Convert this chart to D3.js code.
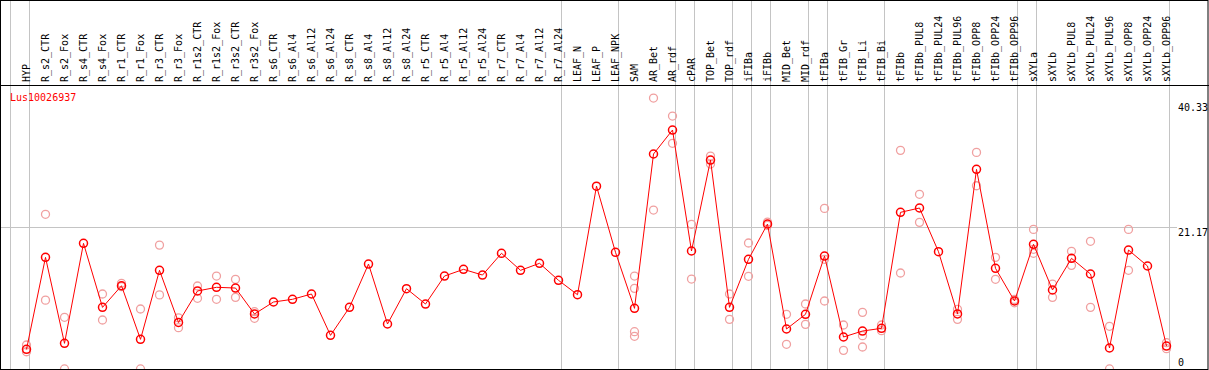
<!DOCTYPE html>
<html>
<head>
<meta charset="utf-8">
<script src="https://cdn.jsdelivr.net/npm/d3@7"></script>
<style>
	html, body { margin: 0; padding: 0; background: #fff; }
	svg { display: block; }
</style>
</head>
<body>
<svg id="chart" width="1209" height="370"></svg>
<script>
// Data
const geneName = "Lus10026937";
const categories = [
	"HYP", "R_s2_CTR", "R_s2_Fox", "R_s4_CTR", "R_s4_Fox", "R_r1_CTR", "R_r1_Fox",
	"R_r3_CTR", "R_r3_Fox", "R_r1s2_CTR", "R_r1s2_Fox", "R_r3s2_CTR", "R_r3s2_Fox",
	"R_s6_CTR", "R_s6_Al4", "R_s6_Al12", "R_s6_Al24", "R_s8_CTR", "R_s8_Al4",
	"R_s8_Al12", "R_s8_Al24", "R_r5_CTR", "R_r5_Al4", "R_r5_Al12", "R_r5_Al24",
	"R_r7_CTR", "R_r7_Al4", "R_r7_Al12", "R_r7_Al24", "LEAF_N", "LEAF_P", "LEAF_NPK",
	"SAM", "AR_Bet", "AR_rdf", "cPAR", "TOP_Bet", "TOP_rdf", "iFIBa", "iFIBb",
	"MID_Bet", "MID_rdf", "tFIBa", "tFIB_Gr", "tFIB_Li", "tFIB_Bi", "tFIBb",
	"tFIBb_PUL8", "tFIBb_PUL24", "tFIBb_PUL96", "tFIBb_OPP8", "tFIBb_OPP24", "tFIBb_OPP96",
	"sXYLa", "sXYLb", "sXYLb_PUL8", "sXYLb_PUL24", "sXYLb_PUL96", "sXYLb_OPP8",
	"sXYLb_OPP24", "sXYLb_OPP96"
];
const means = [
	2.7, 16.73, 3.61, 18.87, 9.1, 12.4, 4.22, 14.75, 6.8, 11.6, 12.16, 12.05, 8.09,
	9.92, 10.33, 11.14, 4.83, 9.1, 15.71, 6.56, 11.95, 9.61, 13.88, 14.9, 14.03,
	17.35, 14.75, 15.82, 13.23, 11.03, 27.6, 17.5,
	8.95, 32.5, 36.16, 17.7, 31.58, 9.1, 16.43, 21.82, 5.8, 8.04, 16.93, 4.58, 5.49, 5.9,
	23.6, 24.26, 17.59, 8.09, 30.16, 15.06, 10.07,
	18.72, 11.75, 16.58, 14.19, 2.9, 17.85, 15.41, 3.2
];
const replicates = [
	[3.36, 2.33], [23.3, 10.2], [7.58, -0.3], [], [11.14, 7.17], [12.77, 12.25],
	[8.85, -0.3], [18.6, 11.0], [7.5, 6.0], [12.36, 10.48], [13.88, 10.33],
	[13.38, 10.63], [8.44, 7.43],
	[], [], [], [], [], [], [], [], [], [], [], [], [], [], [], [], [], [], [],
	[13.88, 12.0, 5.39, 4.68], [41.04, 23.95], [38.29, 34.13], [21.77, 13.42],
	[32.19, 30.97], [11.14, 7.27], [18.92, 13.84], [22.12, 21.6], [8.04, 3.46],
	[9.61, 6.51], [24.2, 16.43, 10.07], [6.41, 2.54], [8.34, 4.78, 3.05], [6.41, 5.54],
	[33.06, 14.34], [26.35, 22.07], [], [8.8, 7.27], [32.75, 27.66], [16.73, 13.38],
	[10.3, 9.8],
	[21.0, 17.96, 17.35], [12.66, 10.63], [17.65, 15.51], [19.18, 9.1], [6.21, -0.3],
	[21.0, 14.75], [], [3.71, 2.79]
];
const yTicks = [0, 21.17, 40.33];
const gridTicks = [21.17];
// column index where a tissue group starts (gray separators)
const groupBreaks = [0, 1, 29, 32, 35, 36, 38, 39, 40, 42, 43, 46, 53, 54, 61];

// Values
const width = 1209,
	height = 370,
	headerBottom = 85,
	colW = 19,
	colLeft = 10.5;
const font = "'DejaVu Sans Mono', 'Liberation Mono', monospace";
const lineColor = "#ff0000";
const repColor = "#f0a0a0";
const gridColor = "#c4c4c4";

// D3 scales
const x = d3
	.scaleBand()
	.domain(categories)
	.range([colLeft, colLeft + colW * categories.length]);
const cx = (c) => x(c) + 16;
const y = d3.scaleLinear().domain([0, 40.33]).range([367, 102.7]);

const svg = d3.select("#chart");

// gray separators between groups
svg
	.append("g")
	.selectAll("line")
	.data(groupBreaks)
	.join("line")
	.attr("x1", (d) => colLeft + d * colW)
	.attr("x2", (d) => colLeft + d * colW)
	.attr("y1", 0)
	.attr("y2", height)
	.attr("stroke", gridColor)
	.attr("stroke-width", 1);

// horizontal grid
svg
	.append("g")
	.selectAll("line")
	.data(gridTicks)
	.join("line")
	.attr("x1", 0)
	.attr("x2", 1177)
	.attr("y1", (d) => Math.round(y(d)) - 0.5)
	.attr("y2", (d) => Math.round(y(d)) - 0.5)
	.attr("stroke", gridColor)
	.attr("stroke-width", 1);

// header labels
svg
	.append("g")
	.selectAll("text")
	.data(categories)
	.join("text")
	.attr("transform", (d) => `translate(${cx(d) + 3},${headerBottom - 3}) rotate(-90)`)
	.attr("font-family", font)
	.attr("font-size", 10)
	.attr("fill", "#000")
	.text((d) => d);

// header separator
svg
	.append("line")
	.attr("x1", 0)
	.attr("x2", width)
	.attr("y1", headerBottom + 0.5)
	.attr("y2", headerBottom + 0.5)
	.attr("stroke", "#000");

// gene name
svg
	.append("text")
	.attr("x", 10)
	.attr("y", 101)
	.attr("font-family", font)
	.attr("font-size", 10)
	.attr("fill", lineColor)
	.text(geneName);

// y labels on the right
svg
	.append("g")
	.selectAll("text")
	.data(yTicks)
	.join("text")
	.attr("x", 1178)
	.attr("y", (d) => Math.min(y(d) + 8, 366))
	.attr("font-family", font)
	.attr("font-size", 10)
	.attr("fill", "#000")
	.text((d) => d);

// replicates
const reps = [];
categories.forEach((c, i) => replicates[i].forEach((v) => reps.push({ c, v })));
svg
	.append("g")
	.selectAll("circle")
	.data(reps)
	.join("circle")
	.attr("cx", (d) => cx(d.c))
	.attr("cy", (d) => y(d.v))
	.attr("r", 4)
	.attr("fill", "none")
	.attr("stroke", repColor)
	.attr("stroke-width", 1.3);

// mean line
const points = categories.map((c, i) => [cx(c), y(means[i])]);
svg
	.append("path")
	.attr("d", d3.line()(points))
	.attr("fill", "none")
	.attr("stroke", lineColor)
	.attr("stroke-width", 1);

svg
	.append("g")
	.selectAll("circle")
	.data(points)
	.join("circle")
	.attr("cx", (d) => d[0])
	.attr("cy", (d) => d[1])
	.attr("r", 4)
	.attr("fill", "none")
	.attr("stroke", lineColor)
	.attr("stroke-width", 1.5);

// frame
svg
	.append("rect")
	.attr("x", 0.5)
	.attr("y", 0.5)
	.attr("width", width - 1.5)
	.attr("height", height - 1)
	.attr("fill", "none")
	.attr("stroke", "#000")
	.attr("stroke-width", 1);
</script>
</body>
</html>
